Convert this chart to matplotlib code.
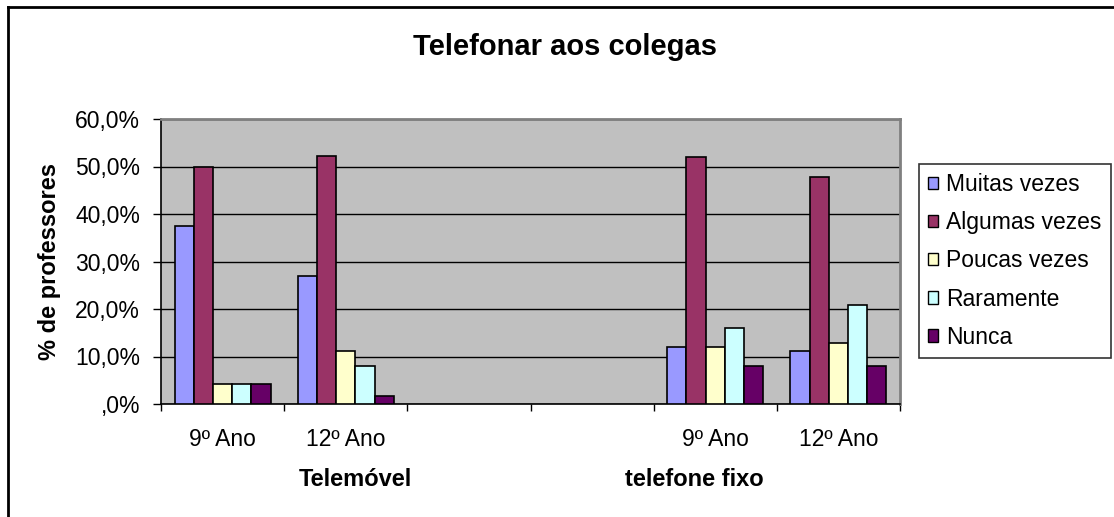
import numpy as np
import matplotlib
matplotlib.use("Agg")
import matplotlib.pyplot as plt
import matplotlib.transforms as mtransforms
from matplotlib.patches import Patch
from matplotlib.lines import Line2D
from matplotlib.ticker import FuncFormatter, FixedLocator

plt.rcParams['font.family'] = ['Liberation Sans', 'DejaVu Sans']

# categories (empty slots separate the two groups)
categories = ["9º Ano", "12º Ano", "", "", "9º Ano", "12º Ano"]
groups = ["Telemóvel", "telefone fixo"]

series = ["Muitas vezes", "Algumas vezes", "Poucas vezes", "Raramente", "Nunca"]
muitas = [37.5, 26.9, None, None, 11.9, 11.2]
algumas = [50.0, 52.3, None, None, 51.9, 47.7]
poucas = [4.2, 11.2, None, None, 11.9, 12.8]
raramente = [4.2, 8.0, None, None, 16.1, 20.8]
nunca = [4.2, 1.6, None, None, 8.1, 8.1]
values = [muitas, algumas, poucas, raramente, nunca]
colors = ["#9999FF", "#993366", "#FFFFCC", "#CCFFFF", "#660066"]

fig = plt.figure(figsize=(11.14, 5.17), dpi=100)
ax = fig.add_axes([161 / 1114, 1 - 404 / 517, 739 / 1114, 285 / 517])
ax.set_facecolor("#C0C0C0")

x = np.arange(len(categories))
w = 0.156
for i, (name, vals, col) in enumerate(zip(series, values, colors)):
    h = np.array([np.nan if v is None else v for v in vals], dtype=float)
    ok = ~np.isnan(h)
    ax.bar(x[ok] + (i - 2) * w, h[ok], width=w, color=col,
           edgecolor="black", linewidth=1.2, zorder=3)

ax.set_xlim(-0.5, len(categories) - 0.5)
ax.set_ylim(0, 60)

# gridlines every 10%
ax.yaxis.set_major_locator(FixedLocator(np.arange(0, 61, 10)))
ax.yaxis.grid(True, color="black", linewidth=1, zorder=1)
ax.set_axisbelow(True)

def pct(v, pos):
    s = f"{v:.1f}".replace(".", ",")
    if s.startswith("0"):
        s = s[1:]
    return s + "%"

ax.yaxis.set_major_formatter(FuncFormatter(pct))
ax.tick_params(axis="y", direction="out", length=6, width=1,
               labelsize=16.5, pad=9)

# tick marks at the slot boundaries, labels at the slot centres
ax.set_xticks(np.arange(-0.5, len(categories), 1.0))
ax.set_xticklabels([])
ax.set_xticks(x, minor=True)
ax.set_xticklabels(categories, minor=True)
ax.tick_params(axis="x", which="major", direction="out", length=5, width=1)
ax.tick_params(axis="x", which="minor", length=0, labelsize=16.5, pad=17)

for side in ["left", "bottom"]:
    ax.spines[side].set_color("black")
    ax.spines[side].set_linewidth(1.2)
for side in ["top", "right"]:
    ax.spines[side].set_color("#808080")
    ax.spines[side].set_linewidth(2)

# group labels under the categories
trans = mtransforms.blended_transform_factory(ax.transData, fig.transFigure)
for gx, g in zip([1.08, 3.83], groups):
    ax.text(gx, 1 - 480 / 517, g, transform=trans,
            ha="center", va="center", fontsize=17, fontweight="bold")

ax.set_ylabel("% de professores", fontsize=17, fontweight="bold", labelpad=10)

fig.text(565 / 1114, 1 - 55 / 517, "Telefonar aos colegas", ha="center",
         va="baseline", fontsize=21, fontweight="bold")

handles = [Patch(facecolor=c, edgecolor="black", linewidth=1) for c in colors]
leg = fig.legend(handles, series, loc="upper left",
                 bbox_to_anchor=(919 / 1114, 1 - 164 / 517),
                 frameon=True, fancybox=False, fontsize=16.5,
                 handlelength=0.45, handleheight=0.45, handletextpad=0.35,
                 labelspacing=0.66, borderpad=0.4, borderaxespad=0)
leg.get_frame().set_edgecolor("black")
leg.get_frame().set_linewidth(1.2)

# chart border (left and top edges)
fig.add_artist(Line2D([8 / 1114, 8 / 1114], [0, 1 - 7 / 517], color="black", linewidth=2))
fig.add_artist(Line2D([8 / 1114, 1], [1 - 7 / 517, 1 - 7 / 517], color="black", linewidth=2))

fig.savefig("out.png", dpi=100)
